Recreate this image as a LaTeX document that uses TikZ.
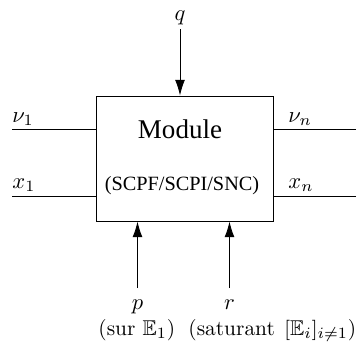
\documentclass[tikz,border=0pt]{standalone}
\usepackage{amsfonts, amssymb, amsmath}
\usepackage{fontspec}
\newfontfamily\timesfont{Liberation Serif}
\usepackage{tikz}
\usetikzlibrary{arrows.meta}
\newcommand{\EE}{\mathbb{E}}

\begin{document}
\begin{tikzpicture}[x=0.444pt, y=-0.444pt,
    flow/.style={-{Latex[length=7pt, width=4.4pt]}},
    lbl/.style={anchor=base, inner sep=0pt},
    note/.style={anchor=base west, inner sep=0pt, font=\fontsize{9.5}{11}\selectfont}]
    \useasboundingbox (0, 0) rectangle (363, 344);
    % the module
    \node[draw, minimum width=78.6pt, minimum height=55.5pt, inner sep=0pt] (mod) at (184.5, 158.5) {};
    \node[lbl] (title) at (180, 138) {\timesfont\fontsize{12}{14}\selectfont Module};
    \node[lbl] (kind) at (182, 190) {\timesfont\fontsize{9}{11}\selectfont (SCPF/SCPI/SNC)};
    % side lines
    \coordinate (nuin) at (12, 129);
    \coordinate (xin) at (12, 196.5);
    \coordinate (nuout) at (356, 129);
    \coordinate (xout) at (356, 196.5);
    \draw (nuin) -- (nuin -| mod.west);
    \draw (xin) -- (xin -| mod.west);
    \draw (nuout) -- (nuout -| mod.east);
    \draw (xout) -- (xout -| mod.east);
    \node[lbl, anchor=base west] (nu1) at (12, 122) {$\nu_1$};
    \node[lbl, anchor=base west] (x1) at (12, 188) {$x_1$};
    \node[lbl, anchor=base west] (nun) at (288, 122) {$\nu_n$};
    \node[lbl, anchor=base west] (xn) at (288, 188) {$x_n$};
    % top and bottom inputs
    \node[lbl] (q) at (180, 20) {$q$};
    \draw[flow] (180, 29) -- (q |- mod.north);
    \node[lbl] (p) at (137.5, 309) {$p$};
    \node[lbl] (r) at (229.5, 309) {$r$};
    \draw[flow] (137.5, 288) -- (p |- mod.south);
    \draw[flow] (229.5, 288) -- (r |- mod.south);
    \node[note] (sur) at (98, 335) {(sur $\EE_1$)};
    \node[note] (sat) at (188, 335) {(saturant\;\,$[\EE_i]_{i\neq 1}$)};
\end{tikzpicture}
\end{document}
